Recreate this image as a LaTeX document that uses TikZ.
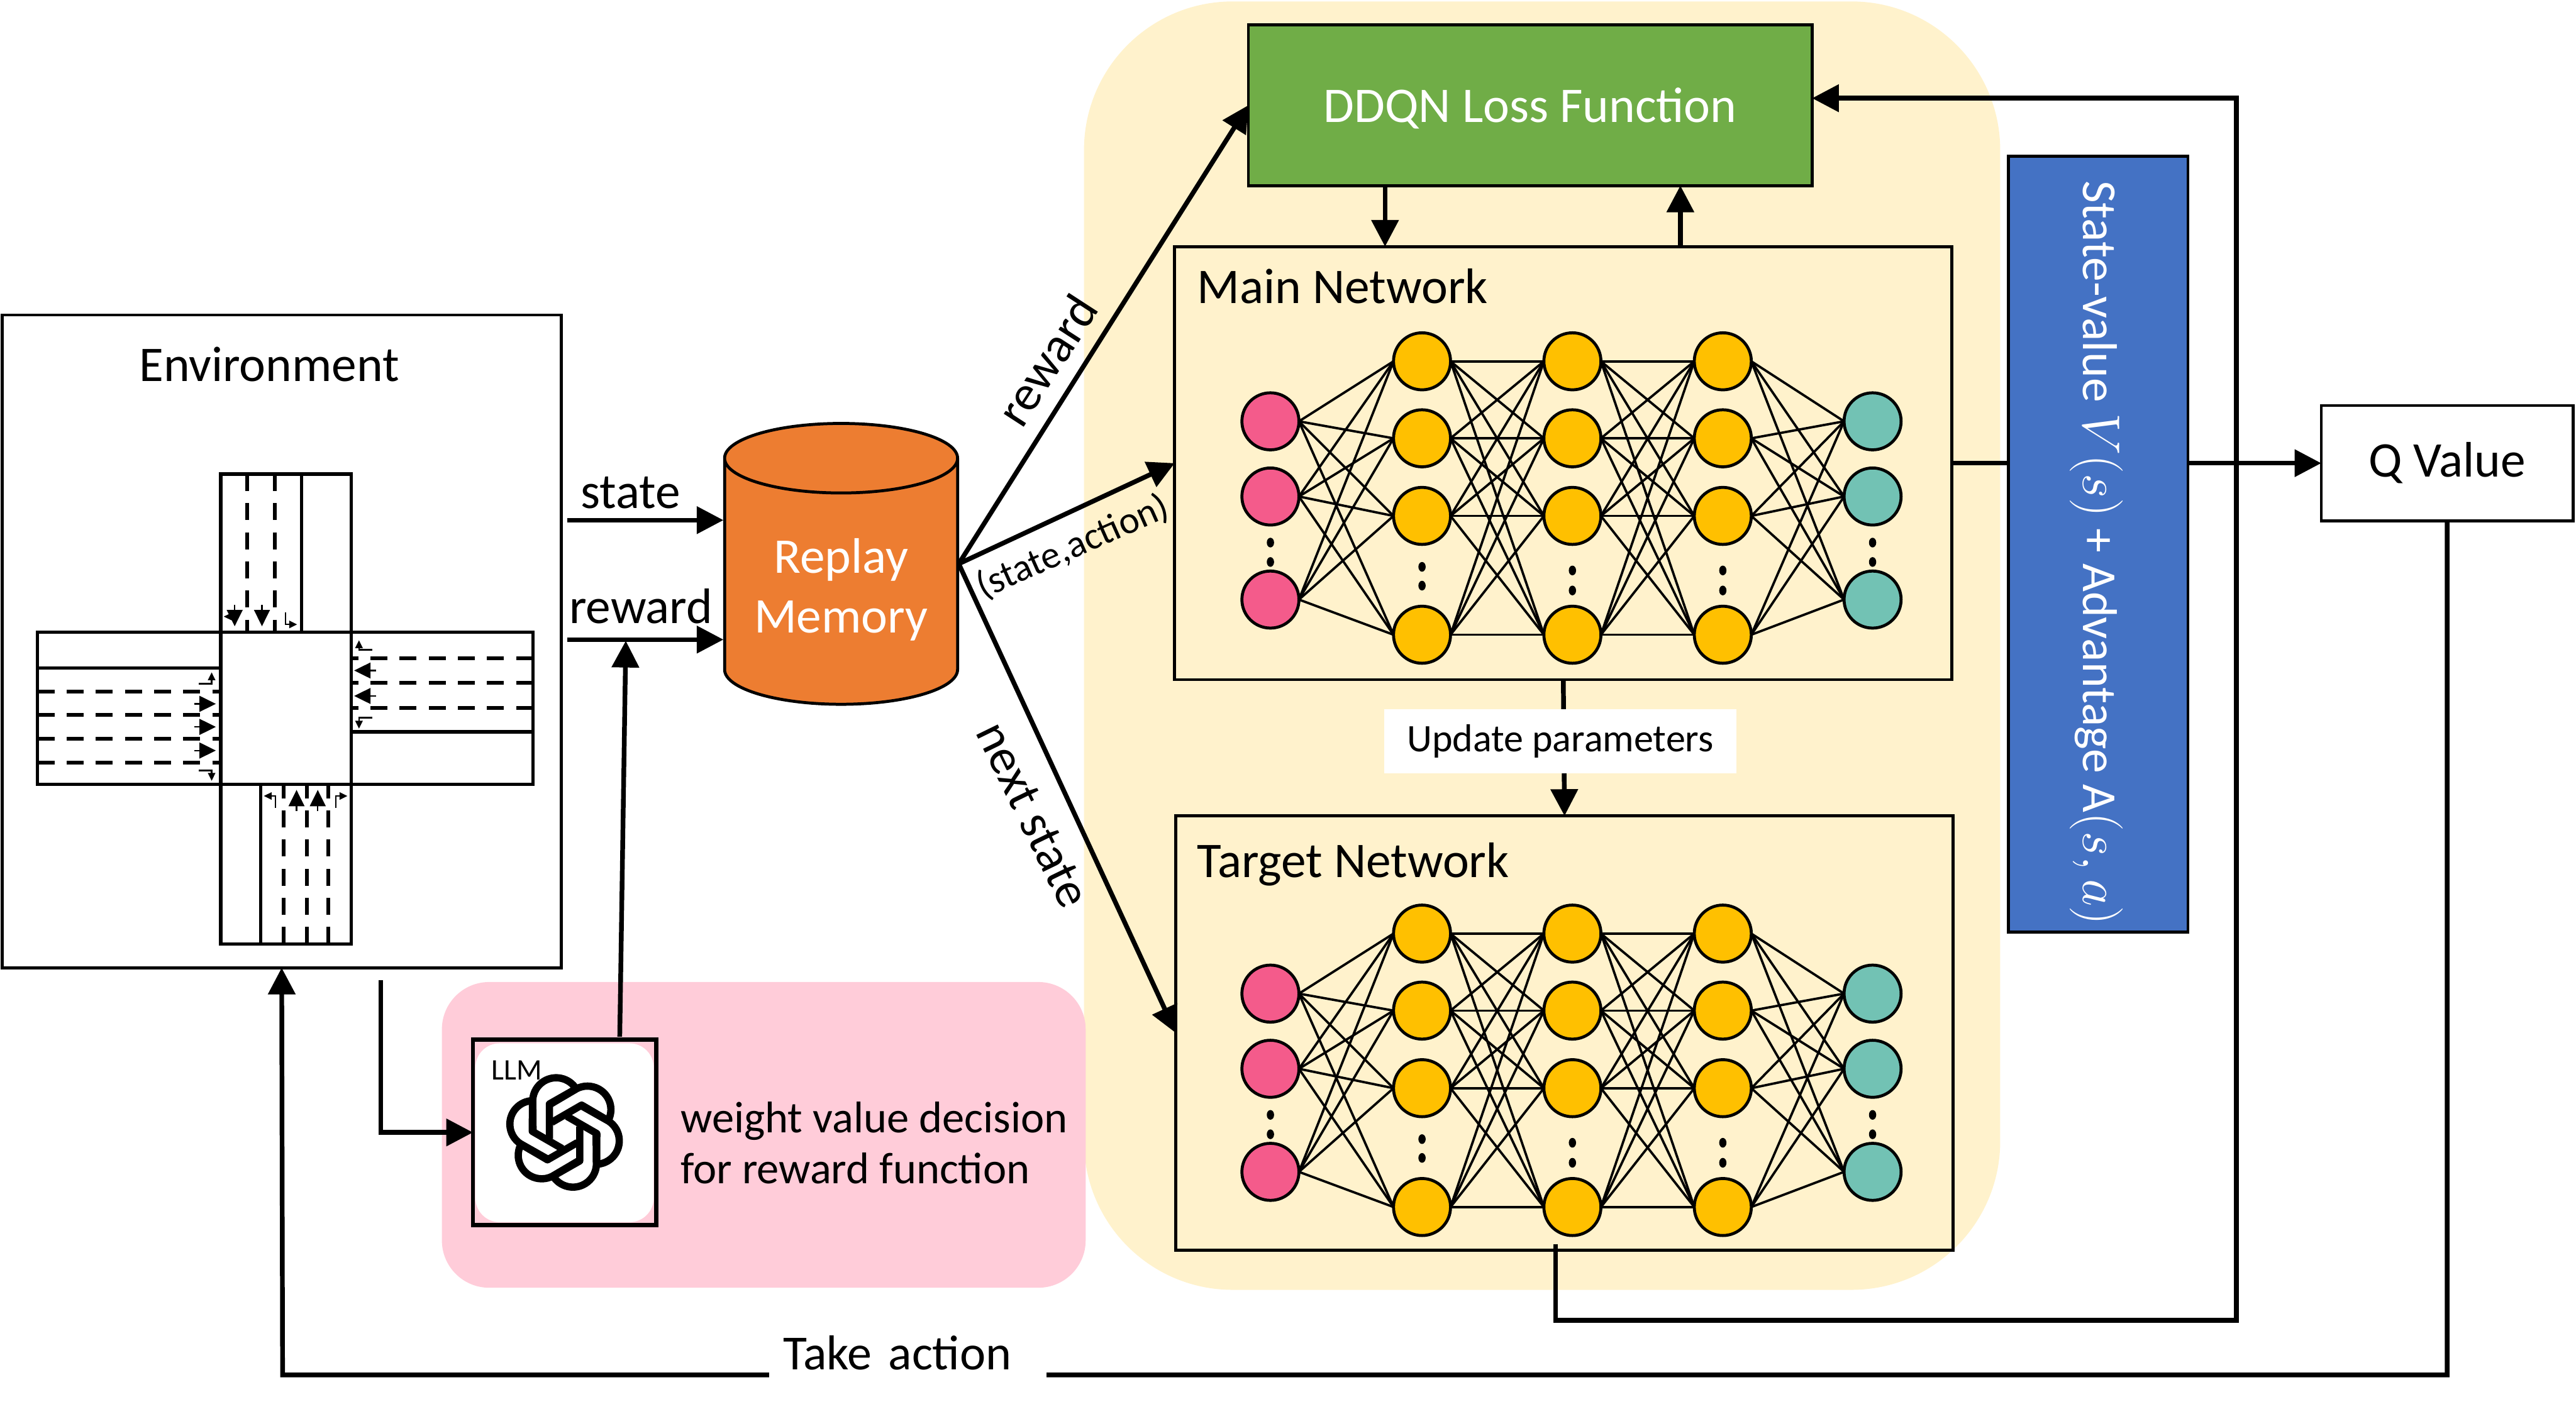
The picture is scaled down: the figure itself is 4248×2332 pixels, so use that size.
\documentclass[tikz,border=0pt]{standalone}
\usepackage{fontspec}
\setmainfont{Carlito}
\usetikzlibrary{shapes.geometric, arrows.meta, positioning, calc}
\definecolor{panelyellow}{HTML}{FFF2CC}
\definecolor{panelpink}{HTML}{FFCCD9}
\definecolor{ddqngreen}{HTML}{70AD47}
\definecolor{valueblue}{HTML}{4472C4}
\definecolor{memoryorange}{HTML}{ED7D31}
\definecolor{inpink}{HTML}{F45B8B}
\definecolor{hidgold}{HTML}{FFC000}
\definecolor{outteal}{HTML}{72C2B4}

\begin{document}
\begin{tikzpicture}[
  x=0.01cm, y=-0.01cm,
  every node/.style={font=\fontsize{23.4}{27}\selectfont},
  box/.style={rectangle, draw, line width=1.4pt, inner sep=0pt, outer sep=0pt},
  panel/.style={rectangle, inner sep=0pt, outer sep=0pt},
  neuron/.style={circle, draw, line width=1.4pt, minimum size=0.94cm, inner sep=0pt, outer sep=0pt},
  edge/.style={line width=1.1pt},
  arrow/.style={-{Stealth[length=4.4mm, width=4.4mm, inset=0pt]}, line width=2.2pt},
  road/.style={line width=1.6pt},
  lane/.style={line width=1.8pt, dash pattern=on 2.8mm off 2mm},
  carr/.style={-{Stealth[length=2.7mm, width=2.6mm, inset=0pt]}, line width=0.7pt},
  turn/.style={-{Stealth[length=1.3mm, width=1.2mm, inset=0pt]}, line width=0.7pt},
  logo/.style={line width=12*0.2845pt, line join=round},
]
  \useasboundingbox (0,0) rectangle (4248,2332);

  \node[panel, fill=panelyellow, rounded corners=24.5mm, minimum width=15.1cm, minimum height=21.24cm] (Yellow) at (2543,1065) {};
  \node[panel, fill=panelpink, rounded corners=7.8mm, minimum width=10.61cm, minimum height=5.04cm] (Pink) at (1259.5,1872) {};

  \node[box, fill=white, minimum width=9.21cm, minimum height=10.76cm] (EnvBox) at (464.5,1058) {};
  \node (EnvText) at (444,601) {Environment};

  \draw[road] (62,1043) rectangle (364,1294);
  \draw[road] (364,782) rectangle (579,1043);
  \draw[road] (579,1043) rectangle (879,1294);
  \draw[road] (364,1294) rectangle (579,1557);
  \draw[road] (62,1102) -- (364,1102);
  \draw[road] (879,1207) -- (579,1207);
  \draw[road] (497,782) -- (497,1043);
  \draw[road] (430,1557) -- (430,1294);
  \draw[lane] (62,1141) -- (364,1141);
  \draw[lane] (62,1179) -- (364,1179);
  \draw[lane] (62,1219) -- (364,1219);
  \draw[lane] (62,1258) -- (364,1258);
  \draw[lane] (879,1086) -- (579,1086);
  \draw[lane] (879,1126) -- (579,1126);
  \draw[lane] (879,1168) -- (579,1168);
  \draw[lane] (408,782) -- (408,1043);
  \draw[lane] (453,782) -- (453,1043);
  \draw[lane] (468,1557) -- (468,1294);
  \draw[lane] (506,1557) -- (506,1294);
  \draw[lane] (541,1557) -- (541,1294);

  \draw[carr] (320,1161) -- (356,1161);
  \draw[carr] (320,1199) -- (356,1199);
  \draw[carr] (320,1238) -- (356,1238);
  \draw[carr] (620,1106) -- (584,1106);
  \draw[carr] (620,1148) -- (584,1148);
  \draw[carr] (387,998) -- (387,1033);
  \draw[carr] (432,998) -- (432,1033);
  \draw[carr] (489,1338) -- (489,1303);
  \draw[carr] (524,1338) -- (524,1303);
  \draw[turn] (328,1128) -| (349,1109);
  \draw[turn] (328,1271) -| (349,1288);
  \draw[turn] (614,1072) -| (592,1056);
  \draw[turn] (614,1184) -| (592,1202);
  \draw[turn] (387,1002) |- (369,1017);
  \draw[turn] (471,1010) |- (490,1030);
  \draw[turn] (454,1333) |- (435,1313);
  \draw[turn] (554,1333) |- (573,1313);

  \node[cylinder, shape border rotate=90, draw, line width=1.4pt, fill=memoryorange, aspect=0.4, minimum height=4.63cm, minimum width=3.84cm, inner sep=0pt, outer sep=0pt, text=white] (Memory) at (1387,960) {\begin{tabular}{@{}c@{}}\rule{0pt}{28pt}Replay\\[1pt]Memory\end{tabular}};

  \node[box, fill=ddqngreen, text=white, text height=20pt, text depth=4pt, minimum width=9.29cm, minimum height=2.65cm] (DDQN) at (2523.5,173.5) {DDQN Loss Function};
  \node[box, minimum width=12.81cm, minimum height=7.14cm] (Main) at (2578,764) {};
  \node[box, minimum width=12.81cm, minimum height=7.16cm] (Target) at (2580,1704) {};
  \node[anchor=base west] (MainText) at (1962,500) {Main Network};
  \node[anchor=base west] (TargetText) at (1962,1447) {Target Network};

  \foreach \net/\dy in {M/0, T/944} {
    \foreach \i/\py in {1/695, 2/819, 3/989} {
      \node[neuron, fill=inpink] (\net I\i) at (2095,{\py+\dy}) {};
      \node[neuron, fill=outteal] (\net O\i) at (3088,{\py+\dy}) {};
    }
    \foreach \l/\px in {A/2345, B/2593, C/2841}
      \foreach \i/\py in {1/596, 2/723, 3/851, 4/1047}
        \node[neuron, fill=hidgold] (\net\l\i) at (\px,{\py+\dy}) {};
    \foreach \a in {1,2,3}
      \foreach \b in {1,2,3,4} {
        \draw[edge] (\net I\a.east) -- (\net A\b.west);
        \draw[edge] (\net C\b.east) -- (\net O\a.west);
      }
    \foreach \a in {1,2,3,4}
      \foreach \b in {1,2,3,4} {
        \draw[edge] (\net A\a.east) -- (\net B\b.west);
        \draw[edge] (\net B\a.east) -- (\net C\b.west);
      }
    \foreach \px/\pa/\pb in {2095/895/927, 2345/935/966, 2593/941/974, 2841/941/974, 3088/895/927} {
      \fill (\px,{\pa+\dy}) circle[x radius=0.06cm, y radius=0.08cm];
      \fill (\px,{\pb+\dy}) circle[x radius=0.06cm, y radius=0.08cm];
    }
  }

  \node[box, fill=valueblue, minimum width=2.96cm, minimum height=12.79cm] (Blue) at (3460,897.5) {};
  \node[rotate=-90, text=white, font=\fontsize{22.9}{27}\selectfont] (BlueText) at (3457,912) {State-value $V(s)$ + Advantage A$(s,a)$};
  \node[box, fill=white, minimum width=4.15cm, minimum height=1.9cm] (QValue) at (4035.5,764) {Q Value};

  \fill[white, rounded corners=4mm] (784,1721) rectangle (1078,2016);
  \node[box, line width=2pt, minimum width=3.02cm, minimum height=3.06cm] (LLM) at (931,1868) {};
  \node[font=\fontsize{14}{16}\selectfont] (LLMText) at (852,1765) {LLM};
  \foreach \ang in {0,60,...,300}
    \draw[logo, shift={(931,1868)}, rotate=\ang, x=0.01cm, y=0.01cm] (-25,-10) -- (-25,47) -- (19,72) arc[start angle=32, end angle=177, radius=0.387cm] -- (-52,0);
  \node[anchor=west, align=left, font=\fontsize{20.8}{24}\selectfont] (WeightText) at (1110,1885) {weight value decision\\for reward function};

  \coordinate (StateTail) at (935,858);
  \coordinate (StateTip) at (1193,858);
  \coordinate (RewardTail) at (935,1055);
  \coordinate (RewardTip) at (1193,1055);
  \coordinate (LLMTail) at (1022,1710);
  \coordinate (LLMTip) at (1032,1057);
  \coordinate (EnvTail) at (628,1617);
  \coordinate (MemoryOut) at (1581,930);
  \coordinate (LoopRight) at (3688,162);
  \coordinate (LoopLow) at (3688,2178);
  \coordinate (LoopTail) at (2565,2052);
  \coordinate (ActLow) at (466,2268);

  \draw[arrow] (StateTail) -- (StateTip);
  \draw[arrow] (RewardTail) -- (RewardTip);
  \draw[arrow] (LLMTail) -- (LLMTip);
  \draw[arrow] (EnvTail) |- (LLM.west);
  \draw[arrow] (MemoryOut) -- (DDQN.west);
  \draw[arrow] (MemoryOut) -- (Main.west);
  \draw[arrow] (MemoryOut) -- (Target.west);
  \draw[arrow] (DDQN.south -| 2284,0) -- (Main.north -| 2284,0);
  \draw[arrow] (Main.north -| 2771,0) -- (DDQN.south -| 2771,0);
  \draw[arrow] (Main.south) -- (Target.north);
  \draw[line width=2.2pt] (Main.east) -- (Main.east -| Blue.west);
  \draw[arrow] (Blue.east |- QValue.west) -- (QValue.west);
  \draw[arrow] (LoopTail) |- (LoopLow) -- (LoopRight) -- (DDQN.east |- LoopRight);
  \draw[arrow] (QValue.south) |- (ActLow) -- (EnvBox.south);

  \node (StateText) at (1040,813) {state};
  \node (RewardText) at (1057,1000) {reward};
  \node[rotate=57] (RewardUp) at (1726,594) {reward};
  \node[rotate=24, font=\fontsize{18}{20}\selectfont] (PairText) at (1769,902) {(state,action)};
  \node[rotate=-64] (NextText) at (1703,1344) {next state};
  \node[fill=white, font=\fontsize{18.3}{22}\selectfont, minimum width=5.8cm, minimum height=1.06cm, inner sep=0pt] (Update) at (2573,1223) {Update parameters};
  \node[fill=white, font=\fontsize{23}{27}\selectfont, text width=4.1cm, align=left, inner xsep=2.4mm, minimum height=1cm] (TakeText) at (1497,2232) {Take action};
\end{tikzpicture}
\end{document}
